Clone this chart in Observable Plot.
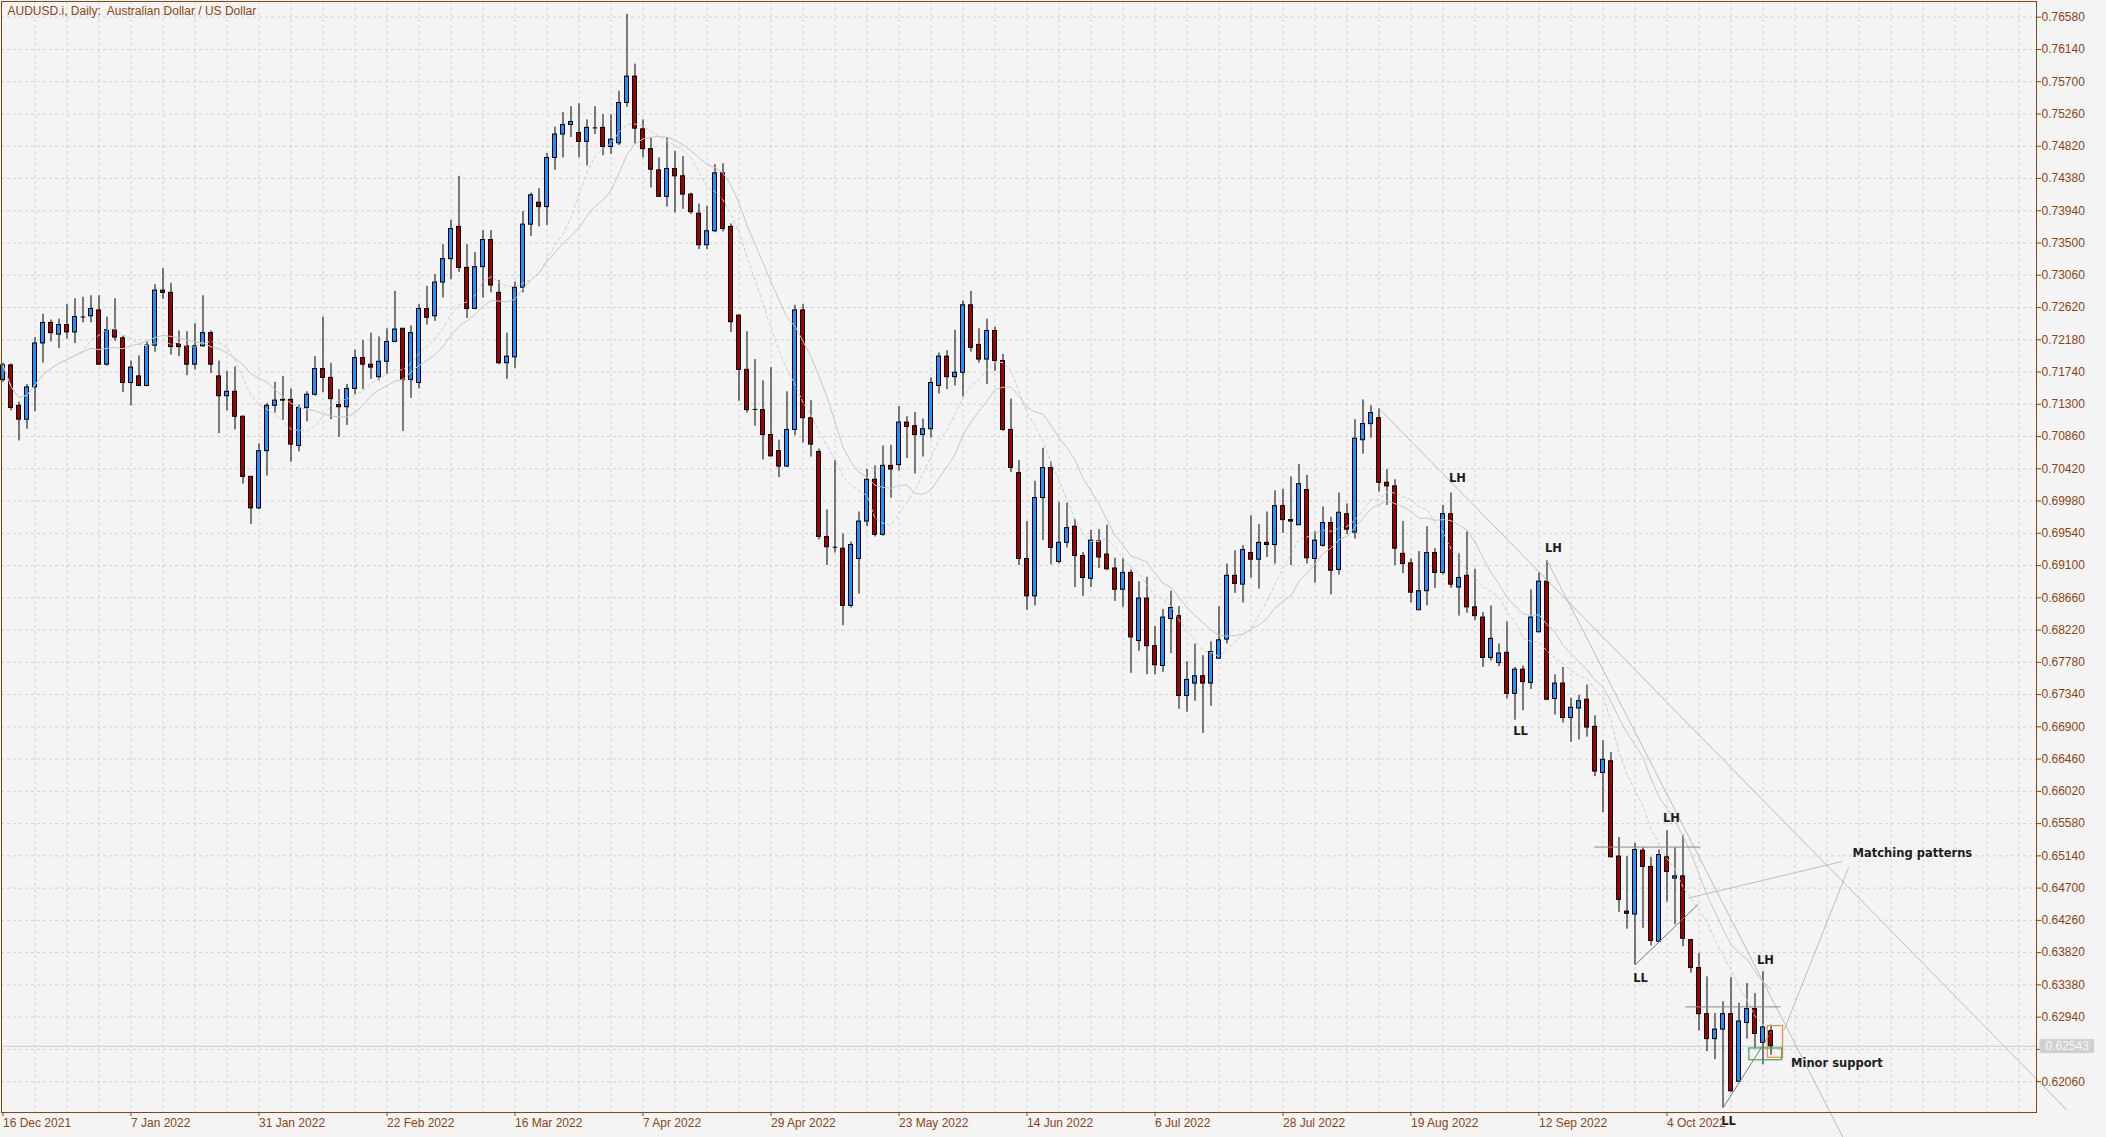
<!DOCTYPE html>
<html><head><meta charset="utf-8">
<script src="https://cdn.jsdelivr.net/npm/d3@7"></script>
<script src="https://cdn.jsdelivr.net/npm/@observablehq/plot@0.6"></script>
<style>
html,body{margin:0;padding:0;background:#f4f4f4;}
#chart{width:2106px;height:1137px;overflow:hidden;}
</style></head><body><div id="chart"></div>
<script>
const title = "AUDUSD.i, Daily:\u00a0 Australian Dollar / US Dollar";
const opens = [
0.7163,0.7183,0.7128,0.7109,0.7153,0.7213,0.7241,0.7225,0.7238,0.7228,
0.7249,0.7250,0.7258,0.7184,0.7231,0.7220,0.7159,0.7168,0.7155,0.7210,
0.7285,0.7282,0.7212,0.7209,0.7184,0.7209,0.7227,0.7168,0.7141,0.7147,
0.7113,0.7031,0.6988,0.7066,0.7128,0.7136,0.7136,0.7073,0.7125,0.7143,
0.7178,0.7166,0.7129,0.7126,0.7151,0.7193,0.7184,0.7167,0.7188,0.7215,
0.7233,0.7163,0.7159,0.7260,0.7250,0.7296,0.7328,0.7372,0.7316,0.7260,
0.7317,0.7354,0.7282,0.7186,0.7194,0.7289,0.7375,0.7405,0.7399,0.7466,
0.7498,0.7511,0.7500,0.7488,0.7507,0.7507,0.7481,0.7486,0.7541,0.7577,
0.7505,0.7478,0.7449,0.7413,0.7451,0.7441,0.7416,0.7390,0.7347,0.7366,
0.7445,0.7372,0.7251,0.7177,0.7123,0.7122,0.7088,0.7066,0.7045,0.7095,
0.7258,0.7111,0.7065,0.6949,0.6935,0.6933,0.6855,0.6919,0.6970,0.7027,
0.6952,0.7046,0.7047,0.7105,0.7100,0.7088,0.7096,0.7155,0.7195,0.7167,
0.7173,0.7265,0.7211,0.7191,0.7230,0.7189,0.7095,0.7036,0.6919,0.6868,
0.7002,0.7043,0.6915,0.6941,0.6963,0.6923,0.6892,0.6943,0.6925,0.6906,
0.6877,0.6900,0.6807,0.6865,0.6800,0.6773,0.6837,0.6841,0.6732,0.6749,
0.6759,0.6749,0.6783,0.6809,0.6896,0.6884,0.6927,0.6918,0.6941,0.6938,
0.6991,0.6972,0.6965,0.7013,0.6919,0.6937,0.6968,0.6904,0.6980,0.6955,
0.7081,0.7103,0.7111,0.7023,0.7018,0.6926,0.6913,0.6849,0.6875,0.6927,
0.6900,0.6980,0.6880,0.6896,0.6853,0.6839,0.6784,0.6777,0.6791,0.6735,
0.6768,0.6750,0.6819,0.6888,0.6728,0.6749,0.6702,0.6715,0.6727,0.6690,
0.6627,0.6643,0.6513,0.6438,0.6434,0.6521,0.6499,0.6397,0.6512,0.6483,
0.6486,0.6399,0.6361,0.6298,0.6264,0.6277,0.6298,0.6206,0.6286,0.6305,
0.6259,0.6275];
const highs = [
0.7186,0.7185,0.7133,0.7157,0.7221,0.7253,0.7245,0.7246,0.7266,0.7274,
0.7276,0.7278,0.7278,0.7249,0.7274,0.7223,0.7189,0.7196,0.7215,0.7293,
0.7315,0.7295,0.7230,0.7229,0.7240,0.7278,0.7230,0.7189,0.7175,0.7181,
0.7114,0.7031,0.7076,0.7131,0.7160,0.7168,0.7151,0.7129,0.7147,0.7195,
0.7249,0.7186,0.7150,0.7157,0.7204,0.7217,0.7227,0.7222,0.7233,0.7284,
0.7233,0.7237,0.7266,0.7291,0.7307,0.7348,0.7381,0.7441,0.7348,0.7337,
0.7367,0.7367,0.7299,0.7227,0.7297,0.7393,0.7418,0.7424,0.7472,0.7508,
0.7528,0.7536,0.7540,0.7518,0.7536,0.7525,0.7525,0.7557,0.7662,0.7594,
0.7518,0.7493,0.7466,0.7494,0.7475,0.7468,0.7418,0.7403,0.7400,0.7457,
0.7458,0.7376,0.7251,0.7229,0.7191,0.7162,0.7180,0.7081,0.7147,0.7265,
0.7266,0.7135,0.7069,0.6986,0.7053,0.6953,0.6942,0.6983,0.7041,0.7046,
0.7073,0.7074,0.7127,0.7113,0.7119,0.7110,0.7166,0.7200,0.7203,0.7231,
0.7271,0.7284,0.7233,0.7246,0.7235,0.7198,0.7137,0.7053,0.6970,0.7025,
0.7070,0.7052,0.6996,0.6995,0.6973,0.6928,0.6958,0.6959,0.6965,0.6920,
0.6920,0.6904,0.6888,0.6894,0.6827,0.6850,0.6875,0.6854,0.6779,0.6803,
0.6787,0.6806,0.6854,0.6912,0.6930,0.6937,0.6978,0.6966,0.6983,0.7012,
0.7014,0.7031,0.7048,0.7033,0.6956,0.6990,0.6976,0.7009,0.6994,0.7109,
0.7136,0.7128,0.7124,0.7041,0.7027,0.6970,0.6919,0.6929,0.6963,0.6933,
0.6992,0.7009,0.6926,0.6956,0.6905,0.6846,0.6855,0.6803,0.6833,0.6771,
0.6773,0.6877,0.6900,0.6917,0.6761,0.6771,0.6729,0.6733,0.6747,0.6705,
0.6671,0.6655,0.6539,0.6513,0.6531,0.6525,0.6512,0.6522,0.6548,0.6525,
0.6542,0.6400,0.6381,0.6349,0.6299,0.6315,0.6348,0.6313,0.6340,0.6326,
0.6356,0.6283];
const lows = [
0.7160,0.7121,0.7080,0.7096,0.7120,0.7186,0.7215,0.7206,0.7219,0.7213,
0.7241,0.7241,0.7183,0.7182,0.7216,0.7146,0.7128,0.7154,0.7154,0.7201,
0.7273,0.7197,0.7195,0.7169,0.7177,0.7208,0.7172,0.7090,0.7121,0.7095,
0.7021,0.6966,0.6986,0.7032,0.7118,0.7108,0.7051,0.7065,0.7106,0.7141,
0.7146,0.7109,0.7085,0.7101,0.7143,0.7150,0.7164,0.7162,0.7171,0.7215,
0.7093,0.7138,0.7151,0.7238,0.7243,0.7275,0.7300,0.7310,0.7247,0.7259,
0.7275,0.7282,0.7184,0.7164,0.7179,0.7282,0.7359,0.7372,0.7374,0.7449,
0.7466,0.7494,0.7466,0.7455,0.7498,0.7469,0.7471,0.7483,0.7535,0.7485,
0.7466,0.7425,0.7413,0.7399,0.7391,0.7396,0.7389,0.7341,0.7341,0.7364,
0.7365,0.7228,0.7134,0.7118,0.7100,0.7054,0.7058,0.7030,0.7044,0.7087,
0.7077,0.7058,0.6945,0.6910,0.6927,0.6828,0.6852,0.6871,0.6963,0.6949,
0.6950,0.7002,0.7039,0.7056,0.7035,0.7058,0.7084,0.7144,0.7150,0.7155,
0.7140,0.7201,0.7186,0.7157,0.7175,0.7093,0.7037,0.6910,0.6849,0.6855,
0.6944,0.6911,0.6912,0.6934,0.6880,0.6868,0.6880,0.6906,0.6903,0.6861,
0.6853,0.6763,0.6793,0.6761,0.6761,0.6764,0.6790,0.6714,0.6710,0.6725,
0.6681,0.6718,0.6782,0.6803,0.6872,0.6859,0.6893,0.6878,0.6921,0.6912,
0.6954,0.6910,0.6965,0.6912,0.6886,0.6935,0.6870,0.6897,0.6952,0.6946,
0.7062,0.7084,0.7010,0.6992,0.6910,0.6899,0.6859,0.6849,0.6855,0.6879,
0.6897,0.6879,0.6841,0.6845,0.6835,0.6771,0.6780,0.6772,0.6728,0.6699,
0.6712,0.6741,0.6819,0.6726,0.6706,0.6695,0.6669,0.6672,0.6676,0.6622,
0.6573,0.6512,0.6437,0.6414,0.6365,0.6415,0.6391,0.6396,0.6451,0.6420,
0.6390,0.6354,0.6275,0.6247,0.6236,0.6170,0.6191,0.6205,0.6264,0.6252,
0.6229,0.6242];
const closes = [
0.7183,0.7125,0.7109,0.7153,0.7213,0.7241,0.7227,0.7238,0.7228,0.7249,
0.7249,0.7260,0.7184,0.7231,0.7221,0.7159,0.7180,0.7155,0.7210,0.7285,
0.7282,0.7208,0.7208,0.7184,0.7209,0.7227,0.7184,0.7141,0.7147,0.7113,
0.7031,0.6988,0.7066,0.7128,0.7135,0.7135,0.7075,0.7125,0.7143,0.7178,
0.7166,0.7137,0.7126,0.7151,0.7193,0.7184,0.7180,0.7188,0.7215,0.7232,
0.7163,0.7227,0.7260,0.7248,0.7296,0.7328,0.7369,0.7316,0.7260,0.7317,
0.7354,0.7292,0.7186,0.7195,0.7289,0.7375,0.7415,0.7399,0.7466,0.7498,
0.7511,0.7515,0.7488,0.7507,0.7507,0.7481,0.7491,0.7541,0.7577,0.7506,
0.7478,0.7450,0.7413,0.7451,0.7441,0.7416,0.7392,0.7347,0.7366,0.7445,
0.7369,0.7242,0.7177,0.7122,0.7123,0.7088,0.7059,0.7045,0.7095,0.7258,
0.7111,0.7075,0.6949,0.6935,0.6935,0.6855,0.6938,0.6970,0.7027,0.6952,
0.7046,0.7041,0.7105,0.7099,0.7088,0.7096,0.7159,0.7195,0.7167,0.7173,
0.7265,0.7207,0.7191,0.7230,0.7189,0.7095,0.7043,0.6919,0.6868,0.7002,
0.7043,0.6934,0.6941,0.6961,0.6923,0.6893,0.6944,0.6921,0.6905,0.6877,
0.6900,0.6812,0.6865,0.6800,0.6774,0.6839,0.6852,0.6732,0.6754,0.6759,
0.6749,0.6792,0.6808,0.6896,0.6885,0.6931,0.6918,0.6941,0.6938,0.6991,
0.6972,0.6970,0.7021,0.6920,0.6944,0.6968,0.6903,0.6982,0.6959,0.7083,
0.7103,0.7118,0.7023,0.7018,0.6933,0.6912,0.6873,0.6875,0.6927,0.6900,
0.6980,0.6884,0.6893,0.6853,0.6841,0.6784,0.6810,0.6790,0.6735,0.6768,
0.6751,0.6839,0.6888,0.6727,0.6749,0.6702,0.6716,0.6725,0.6689,0.6629,
0.6645,0.6512,0.6454,0.6435,0.6522,0.6499,0.6398,0.6515,0.6492,0.6486,
0.6401,0.6361,0.6298,0.6264,0.6277,0.6298,0.6193,0.6288,0.6305,0.6271,
0.6280,0.62543];

const dateTickIdx = [0,16,32,48,64,80,96,112,128,144,160,176,192,208];
const dateTickLabels = ["16 Dec 2021","7 Jan 2022","31 Jan 2022","22 Feb 2022","16 Mar 2022","7 Apr 2022","29 Apr 2022","23 May 2022","14 Jun 2022","6 Jul 2022","28 Jul 2022","19 Aug 2022","12 Sep 2022","4 Oct 2022"];
const priceTicks = [0.76580,0.76140,0.75700,0.75260,0.74820,0.74380,0.73940,0.73500,0.73060,0.72620,0.72180,0.71740,0.71300,0.70860,0.70420,0.69980,0.69540,0.69100,0.68660,0.68220,0.67780,0.67340,0.66900,0.66460,0.66020,0.65580,0.65140,0.64700,0.64260,0.63820,0.63380,0.62940,0.62500,0.62060];
const lastPrice = 0.62543;

// annotations (bar index, price)
const trendLines = [
  {i1:172, p1:0.7124, i2:258, p2:0.6167},
  {i1:193, p1:0.6917, i2:230, p2:0.6130},
  {i1:210.7, p1:0.64565, i2:229.9, p2:0.65063},
  {i1:230.7, p1:0.64977, i2:222.6, p2:0.62758}
];
const levelLines = [
  {i1:198.9, i2:212.2, p:0.6526},
  {i1:210.3, i2:222.2, p:0.6308}
];
const swingLines = [
  {i1:204, p1:0.6365, i2:211.9, p2:0.6448},
  {i1:215, p1:0.6170, i2:220.75, p2:0.6269}
];
const boxes = [
  {i1:220.6, i2:222.5, p1:0.62818, p2:0.62386, color:"#f4893a"},
  {i1:218.3, i2:222.4, p1:0.62513, p2:0.62352, color:"#3aa64e"}
];
const swingLabels = [
  {i:181.8, p:0.70284, t:"LH"},
  {i:193.8, p:0.69333, t:"LH"},
  {i:189.7, p:0.66841, t:"LL"},
  {i:208.55, p:0.65651, t:"LH"},
  {i:204.7, p:0.63469, t:"LL"},
  {i:220.3, p:0.63720, t:"LH"},
  {i:215.7, p:0.61516, t:"LL"}
];
const notes = [
  {i:231.2, p:0.65177, t:"Matching patterns"},
  {i:223.5, p:0.62304, t:"Minor support"}
];

const candles = opens.map((o, k) => ({i:k, open:o, high:highs[k], low:lows[k], close:closes[k]}));
const brown = "#8b4513";
const bull = "#1e90ff", bear = "#a00000";
const gridIdx = d3.range(4, 255, 4);

const chart = Plot.plot({
  width: 2106, height: 1137,
  marginLeft: 1, marginRight: 70, marginTop: 1, marginBottom: 25,
  x: {domain: [-0.1875, 254.1875]},
  y: {domain: [0.616393, 0.767942]},
  color: {type: "identity"},
  style: {fontFamily: "Liberation Sans", fontSize: "12px", background: "#f4f4f4", color: brown},
  marks: [
    Plot.gridY({ticks: priceTicks, stroke: "#d2d2d2", strokeOpacity: 1, strokeDasharray: "3,3"}),
    Plot.gridX({ticks: gridIdx, stroke: "#d2d2d2", strokeOpacity: 1, strokeDasharray: "3,3"}),
    Plot.ruleY([lastPrice], {stroke: "#c8c8c8"}),
    Plot.ruleX(candles, {x: "i", y1: "low", y2: "high", stroke: "#000"}),
    Plot.rect(candles, {x1: d => d.i - 0.25, x2: d => d.i + 0.25, y1: "open", y2: "close",
      fill: d => d.close >= d.open ? bull : bear, stroke: "#000", strokeWidth: 1}),
    Plot.link(candles.filter(d => d.open === d.close), {x1: d => d.i - 0.3, x2: d => d.i + 0.3, y1: "open", y2: "open", stroke: "#000"}),
    Plot.lineY(candles, Plot.windowY({k: 15, anchor: "end", reduce: "mean"}, {x: "i", y: "close", stroke: "#c6c6c6", strokeWidth: 1})),
    Plot.lineY(candles, Plot.windowY({k: 10, anchor: "end", reduce: "mean"}, {x: "i", y: "close", stroke: "#cdcdcd", strokeWidth: 1, strokeDasharray: "3,3"})),
    Plot.link(trendLines, {x1: "i1", y1: "p1", x2: "i2", y2: "p2", stroke: "#bcbcbc", strokeWidth: 1}),
    Plot.link(levelLines, {x1: "i1", x2: "i2", y1: "p", y2: "p", stroke: "#8a8a8a", strokeWidth: 1}),
    Plot.link(swingLines, {x1: "i1", y1: "p1", x2: "i2", y2: "p2", stroke: "#7a7a7a", strokeWidth: 1}),
    Plot.rect(boxes, {x1: "i1", x2: "i2", y1: "p1", y2: "p2", fill: "none", stroke: "color", strokeWidth: 1.2}),
    Plot.text(swingLabels, {x: "i", y: "p", text: "t", fontFamily: "DejaVu Sans", fontWeight: "bold", fontSize: 11.5, fill: "#1c1c1c"}),
    Plot.text(notes, {x: "i", y: "p", text: "t", textAnchor: "start", fontFamily: "DejaVu Sans", fontWeight: "bold", fontSize: 11.5, fill: "#1c1c1c"}),
    Plot.frame({stroke: brown}),
    Plot.axisY({anchor: "right", ticks: priceTicks, tickFormat: d => d.toFixed(5), tickSize: 4, tickPadding: 1, color: brown}),
    Plot.axisX({anchor: "bottom", ticks: dateTickIdx, tickFormat: d => dateTickLabels[dateTickIdx.indexOf(d)], tickSize: 4, tickPadding: 2, textAnchor: "start", dx: 0, color: brown}),
    Plot.text([lastPrice], {y: d => d, text: d => d.toFixed(5), frameAnchor: "right", textAnchor: "start", dx: 9, fill: "#f8f8f8"}),
    Plot.text([title], {text: d => d, frameAnchor: "top-left", dx: 6, dy: 5, textAnchor: "start", lineAnchor: "top", fill: brown})
  ]
});
document.getElementById("chart").appendChild(chart);

// grey box behind the current price label (found by its text)
const priceLabel = lastPrice.toFixed(5);
const lp = Array.from(chart.querySelectorAll("text")).find(t => t.textContent === priceLabel && t.getAttribute("fill") === "#f8f8f8")
  || Array.from(chart.querySelectorAll("text")).filter(t => t.textContent === priceLabel).pop();
if (lp) {
  const bb = lp.getBBox();
  const r = document.createElementNS("http://www.w3.org/2000/svg", "rect");
  r.setAttribute("x", bb.x - 6); r.setAttribute("y", bb.y);
  r.setAttribute("width", bb.width + 11); r.setAttribute("height", bb.height);
  r.setAttribute("fill", "#d0d0d0");
  const tf = lp.getAttribute("transform");
  if (tf) r.setAttribute("transform", tf);
  lp.parentNode.insertBefore(r, lp);
}
</script></body></html>
